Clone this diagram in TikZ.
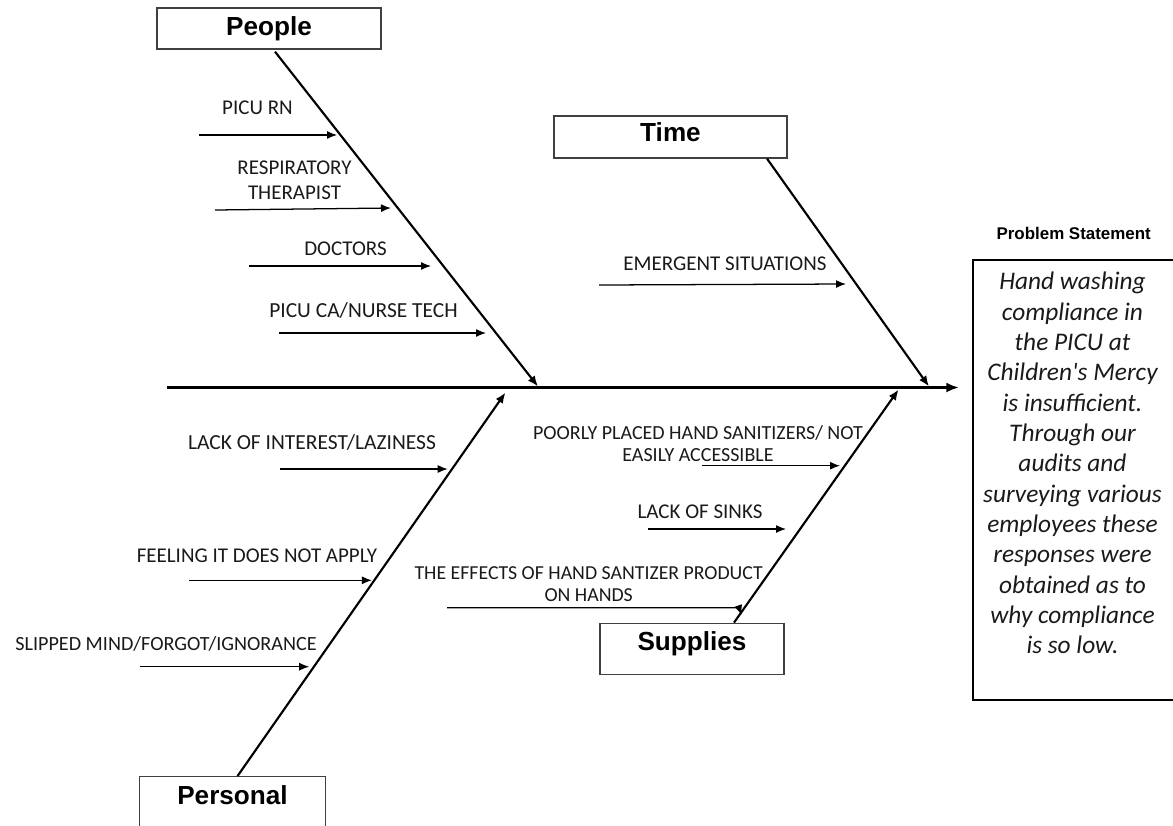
\documentclass[tikz,border=0pt]{standalone}
\usepackage{fontspec}
\setmainfont{Carlito}
\newfontfamily\arialfont{Liberation Sans}
\usetikzlibrary{arrows.meta}
\definecolor{boxgray}{HTML}{404040}
\definecolor{labtext}{HTML}{1A1A1A}
\tikzset{
  catbox/.style={draw=boxgray, line width=1pt, fill=white, inner sep=0pt,
    font=\arialfont\bfseries\fontsize{19.6pt}{22pt}\selectfont, text height=14pt},
  lab/.style={font=\fontsize{15.75pt}{18.75pt}\selectfont, text=labtext, align=center, inner sep=0pt},
  sub/.style={line width=0.95pt, -{Latex[length=7.5pt,width=6pt]}},
  branch/.style={line width=1.6pt, -{Latex[length=8pt,width=6.5pt]}},
  spine/.style={line width=2pt, -{Latex[length=9.5pt,width=7.5pt]}}
}
\begin{document}
\begin{tikzpicture}[x=0.75pt,y=-0.75pt]
\path[use as bounding box] (0,0) rectangle (1173,825);
\clip (0,0) rectangle (1173,825);
\fill[white] (0,0) rectangle (1173,825);

% category boxes
\node[catbox, minimum width=168pt, minimum height=30.75pt, text depth=4.25pt] (people) at (269,28.5) {People};
\node[catbox, minimum width=174.75pt, minimum height=31.5pt, text depth=6.95pt] (time) at (670.5,137) {Time};
\node[catbox, minimum width=138pt, minimum height=38.55pt, text depth=11.45pt] (supplies) at (692,649) {Supplies};
\node[catbox, minimum width=139.5pt, minimum height=40pt, text depth=11.75pt] (personal) at (232.5,803.4) {Personal};

% problem statement
\node[font=\arialfont\bfseries\fontsize{12.7pt}{15pt}\selectfont, inner sep=0pt] (ptitle) at (1073.7,233) {Problem Statement};
\node[draw=black, line width=0.9pt, minimum width=152.25pt, minimum height=330pt, inner sep=0pt] (stmtbox) at (1074.5,480) {};
\node[font=\itshape\fontsize{19pt}{22.75pt}\selectfont, align=center, inner sep=0pt, text=labtext] (stmt) at (1072.5,463)
  {Hand washing\\compliance in\\the PICU at\\Children\textquotesingle s Mercy\\is insufficient.\\Through our\\audits and\\surveying various\\employees these\\responses were\\obtained as to\\why compliance\\is so low.};

% spine
\coordinate (sL) at (167,387.5);
\coordinate (sR) at (959,387.5);
\draw[spine] (sL) -- (sR);

% junctions on spine
\coordinate (pJ) at (538,386.5);
\coordinate (tJ) at (929,386.5);
\coordinate (peJ) at (505.5,392.5);
\coordinate (suJ) at (898.6,389.5);

% branches
\draw[branch] ([xshift=4.5pt,yshift=-1.5pt]people.south) -- (pJ);
\draw[branch] ([xshift=72.4pt]time.south) -- (tJ);
\draw[branch] ([xshift=3.75pt]personal.north) -- (peJ);
\draw[branch] ([xshift=31.5pt]supplies.north) -- (suJ);

% labels
\node[lab] (l1) at (257.5,108) {PICU RN};
\node[lab] (l2) at (294.5,180.5) {RESPIRATORY\\THERAPIST};
\node[lab] (l3) at (345.5,249) {DOCTORS};
\node[lab, font=\fontsize{16.1pt}{18.75pt}\selectfont] (l4) at (363.5,310) {PICU CA/NURSE TECH};
\node[lab] (l5) at (725,264) {EMERGENT SITUATIONS};
\node[lab, font=\fontsize{16.1pt}{18.75pt}\selectfont] (l6) at (312,442.3) {LACK OF INTEREST/LAZINESS};
\node[lab] (l7) at (257,556) {FEELING IT DOES NOT APPLY};
\node[lab, font=\fontsize{15.1pt}{17pt}\selectfont] (l8) at (166,644) {SLIPPED MIND/FORGOT/IGNORANCE};
\node[lab, font=\fontsize{15pt}{17pt}\selectfont] (l9) at (698,443.7) {POORLY PLACED HAND SANITIZERS/ NOT\\EASILY ACCESSIBLE};
\node[lab] (l10) at (700,511.7) {LACK OF SINKS};
\node[lab, font=\fontsize{14.85pt}{16.7pt}\selectfont] (l11) at (588.7,583.9) {THE EFFECTS OF HAND SANTIZER PRODUCT\\ON HANDS};

% sub-cause arrows
\coordinate (a1s) at (199,135);   \coordinate (a1e) at (337,135);
\coordinate (a2s) at (215,210);   \coordinate (a2e) at (391,208);
\coordinate (a3s) at (249,266);   \coordinate (a3e) at (431,266);
\coordinate (a4s) at (279,333);   \coordinate (a4e) at (486,333);
\coordinate (a5s) at (599,285);   \coordinate (a5e) at (846,284);
\coordinate (a6s) at (279.6,469); \coordinate (a6e) at (447.7,469);
\coordinate (a7s) at (189.4,580.3); \coordinate (a7e) at (371.9,580.3);
\coordinate (a8s) at (139.5,666.7); \coordinate (a8e) at (309.2,666.7);
\coordinate (a9s) at (702,465.7); \coordinate (a9e) at (840,465.7);
\coordinate (a10s) at (648,529);  \coordinate (a10e) at (786,529);
\coordinate (a11s) at (447,607.7); \coordinate (a11m) at (739,607.7); \coordinate (a11e) at (741.5,615);
\foreach \i in {1,...,10} {\draw[sub] (a\i s) -- (a\i e);}
\draw[sub] (a11s) -- (a11m) -- (a11e);
\end{tikzpicture}
\end{document}
